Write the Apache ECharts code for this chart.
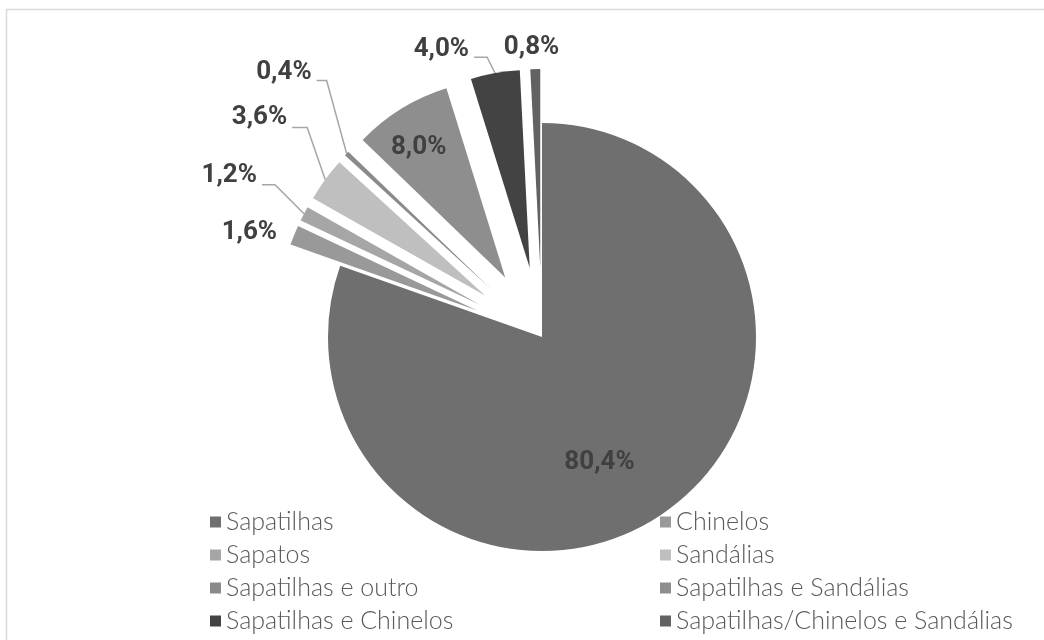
<!DOCTYPE html>
<html>
<head>
<meta charset="utf-8">
<script src="https://cdn.jsdelivr.net/npm/echarts@6/dist/echarts.min.js"></script>
<style>
  html, body { margin: 0; padding: 0; background: #ffffff; }
  #chart { width: 1044px; height: 640px; }
</style>
</head>
<body>
<div id="chart"></div>
<script>
// Footwear categories and their share of answers (%)
const categories = [
  'Sapatilhas',
  'Chinelos',
  'Sapatos',
  'Sandálias',
  'Sapatilhas e outro',
  'Sapatilhas e Sandálias',
  'Sapatilhas e Chinelos',
  'Sapatilhas/Chinelos e Sandálias'
];
const shares = [80.4, 1.6, 1.2, 3.6, 0.4, 8.0, 4.0, 0.8];
const sliceColors = ['#6f6f6f', '#999999', '#a6a6a6', '#bfbfbf', '#8a8a8a', '#8e8e8e', '#434343', '#626262'];

// Pie geometry and label styling
const CENTER = [542, 337];
const BIG_RADIUS = 214;
const SMALL_RADIUS = 198;
const EXPLODE = 70;

// Leader lines for outside labels: elbow offset from the slice edge,
// horizontal run after the elbow, vertical offset of the text from the line end
const leaders = {
  1: { elbow: [-12, 0],   run: 0,  textDy: -3,  line: false },
  2: { elbow: [-29, -29], run: 13, textDy: -9,  line: true },
  3: { elbow: [-18, -52], run: 15, textDy: -10, line: true },
  4: { elbow: [-20, -73], run: 10, textDy: -8,  line: true },
  6: { elbow: [-8, -16],  run: 13, textDy: -8,  line: true },
  7: { elbow: [29, 0],    run: 0,  textDy: -22, line: false }
};
// Inside labels: shift from the default inside position
const insideShift = { 0: [-6, 36], 5: [-33, -43] };

const fmt = v => v.toFixed(1).replace('.', ',') + '%';

const labelFont = {
  fontFamily: 'Roboto, "DejaVu Sans", sans-serif',
  fontSize: 26,
  fontWeight: 'bold',
  color: '#404040'
};

// Mid angle of each slice, clockwise from 12 o'clock
const total = shares.reduce((a, b) => a + b, 0);
let running = 0;
const midAngles = shares.map(v => {
  const m = (running + v / 2) / total * 2 * Math.PI;
  running += v;
  return m;
});

function makeLayout(idx) {
  return function (params) {
    if (params.dataIndex !== idx) return {};
    if (insideShift[idx]) {
      const r = params.labelRect;
      const s = insideShift[idx];
      return {
        x: r.x + r.width / 2 + s[0],
        y: r.y + r.height / 2 + s[1],
        align: 'center',
        verticalAlign: 'middle'
      };
    }
    const ld = leaders[idx];
    const pts = params.labelLinePoints;
    if (!ld || !pts) return {};
    const a = pts[0];
    const e = [a[0] + ld.elbow[0], a[1] + ld.elbow[1]];
    const t = [e[0] - ld.run, e[1]];
    return {
      x: t[0] - 5,
      y: t[1] + ld.textDy,
      align: 'right',
      verticalAlign: 'middle',
      labelLinePoints: [a, e, t]
    };
  };
}

function sliceSeries(idx) {
  const isBig = idx === 0;
  const off = isBig ? 0 : EXPLODE;
  const ang = midAngles[idx];
  const ld = leaders[idx];
  const inside = !!insideShift[idx];
  return {
    type: 'pie',
    center: [CENTER[0] + off * Math.sin(ang), CENTER[1] - off * Math.cos(ang)],
    radius: isBig ? BIG_RADIUS : SMALL_RADIUS,
    startAngle: 90,
    clockwise: true,
    avoidLabelOverlap: false,
    silent: true,
    emphasis: { disabled: true },
    label: Object.assign({ formatter: p => fmt(p.value), distanceToLabelLine: 5 }, labelFont),
    labelLayout: makeLayout(idx),
    data: categories.map((name, i) => ({
      name,
      value: shares[i],
      itemStyle: { color: i === idx ? sliceColors[i] : 'rgba(0,0,0,0)' },
      label: { show: i === idx, position: inside ? 'inside' : 'outside' },
      labelLine: {
        show: i === idx && !!ld && ld.line,
        length: 0,
        length2: 0,
        lineStyle: { color: '#a6a6a6', width: 1.5 }
      }
    }))
  };
}

const chart = echarts.init(document.getElementById('chart'), null, { renderer: 'canvas' });
chart.setOption({
  animation: false,
  backgroundColor: '#ffffff',
  graphic: [{
    type: 'rect',
    shape: { x: 6.5, y: 9.5, width: 1200, height: 800 },
    style: { fill: 'none', stroke: '#d9d9d9', lineWidth: 1.5 },
    silent: true
  }],
  legend: {
    left: 210,
    top: 508,
    width: 920,
    orient: 'horizontal',
    icon: 'rect',
    itemWidth: 11,
    itemHeight: 11,
    itemGap: 5,
    selectedMode: false,
    padding: 0,
    textStyle: {
      fontFamily: 'Lato, "Open Sans", sans-serif',
      fontWeight: 300,
      fontSize: 25,
      color: '#595959',
      width: 429,
      lineHeight: 28,
      overflow: 'none'
    },
    data: categories.map((name, i) => ({ name, itemStyle: { color: sliceColors[i] } }))
  },
  series: categories.map((_, i) => sliceSeries(i))
});
</script>
</body>
</html>
